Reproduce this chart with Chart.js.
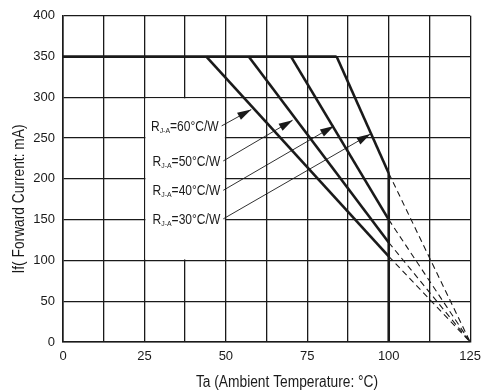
<!DOCTYPE html>
<html>
<head>
<meta charset="utf-8">
<script src="https://cdn.jsdelivr.net/npm/chart.js@4.4.1/dist/chart.umd.min.js"></script>
<style>
    html, body { margin: 0; padding: 0; background: #fff; }
    #wrap { width: 488px; height: 392px; }
</style>
</head>
<body>
<div id="wrap"><canvas id="derating" width="488" height="392"></canvas></div>
<script>
const FONT = '"Liberation Sans", Arial, sans-serif';
const INK = "#1a1a1a";
const SQUEEZE = 0.86; // the original uses a condensed face

// axes
const xMin = 0, xMax = 125, xGridStep = 12.5, xLabelStep = 25;
const yMin = 0, yMax = 400, yStep = 50;

// derating curves (Ta in degC, If in mA)
const rjaValues = [60, 50, 40, 30];
const maxCurrent = 350;
const kneeTa = [44, 57, 70, 84];
const edgeTa = 100;
const edgeCurrent = [105, 122, 150, 207];
const zeroTa = 125;

// label arrows: tail (at the text) -> tip (on the curve)
const arrowTailTa = [48.7, 49.2, 49.2, 49.2];
const arrowTailIf = [265, 222, 186, 151];
const arrowTipTa = [57.8, 70.5, 83.2, 94.4];
const arrowTipIf = [285, 272, 265, 255];

// blank area behind the labels
const labelBoxTa = [25, 50];
const labelBoxIf = [100, 300];

const xTitle = "Ta (Ambient Temperature: °C)";
const yTitle = "If( Forward Current: mA)";

const datasets = [];

// flat 350 mA segment
datasets.push({
    data: [{ x: 0, y: maxCurrent }, { x: Math.max(...kneeTa), y: maxCurrent }],
    borderColor: INK, borderWidth: 2.6
});

rjaValues.forEach((r, i) => {
    datasets.push({
        data: [{ x: kneeTa[i], y: maxCurrent }, { x: edgeTa, y: edgeCurrent[i] }],
        borderColor: INK, borderWidth: 2.6
    });
    datasets.push({
        data: [{ x: edgeTa, y: edgeCurrent[i] }, { x: zeroTa, y: 0 }],
        borderColor: INK, borderWidth: 1.1, borderDash: [6, 4]
    });
    datasets.push({
        data: [{ x: arrowTailTa[i], y: arrowTailIf[i] }, { x: arrowTipTa[i], y: arrowTipIf[i] }],
        borderColor: INK, borderWidth: 0.9, isArrow: true, rIndex: i
    });
});

// vertical 100 degC edge
datasets.push({
    data: [{ x: edgeTa, y: 0 }, { x: edgeTa, y: Math.max(...edgeCurrent) }],
    borderColor: INK, borderWidth: 2.6
});

function squeezed(ctx, text, x, y) {
    ctx.save();
    ctx.translate(x, y);
    ctx.scale(SQUEEZE, 1);
    ctx.fillText(text, 0, 0);
    ctx.restore();
}

const decor = {
    id: "decor",
    beforeDatasetsDraw(chart) {
        const { ctx, scales: { x, y } } = chart;
        const l = x.getPixelForValue(labelBoxTa[0]) + 1;
        const r = x.getPixelForValue(labelBoxTa[1]) - 1;
        const t = y.getPixelForValue(labelBoxIf[1]) + 1;
        const b = y.getPixelForValue(labelBoxIf[0]) - 1;
        ctx.save();
        ctx.fillStyle = "#fff";
        ctx.fillRect(l, t, r - l, b - t);
        ctx.restore();
    },
    afterDatasetsDraw(chart) {
        const { ctx, scales: { x, y } } = chart;
        ctx.save();
        ctx.fillStyle = INK;

        chart.data.datasets.forEach(ds => {
            if (!ds.isArrow) return;
            const i = ds.rIndex;
            const x0 = x.getPixelForValue(arrowTailTa[i]), y0 = y.getPixelForValue(arrowTailIf[i]);
            const x1 = x.getPixelForValue(arrowTipTa[i]), y1 = y.getPixelForValue(arrowTipIf[i]);
            const a = Math.atan2(y1 - y0, x1 - x0);
            const len = 14, half = 4;
            ctx.beginPath();
            ctx.moveTo(x1, y1);
            ctx.lineTo(x1 - len * Math.cos(a) + half * Math.sin(a), y1 - len * Math.sin(a) - half * Math.cos(a));
            ctx.lineTo(x1 - len * Math.cos(a) - half * Math.sin(a), y1 - len * Math.sin(a) + half * Math.cos(a));
            ctx.closePath();
            ctx.fill();

            // label text, right aligned at the arrow tail
            const big = "14px " + FONT, small = "8px " + FONT;
            const rest = "=" + rjaValues[i] + "°C/W";
            ctx.font = big;
            const wR = ctx.measureText("R").width * SQUEEZE;
            const wRest = ctx.measureText(rest).width * SQUEEZE;
            ctx.font = small;
            const wSub = ctx.measureText("J-A").width * SQUEEZE;
            let tx = x0 - 3 - (wR + wSub + wRest);
            const base = y0 + 5;
            ctx.textBaseline = "alphabetic";
            ctx.textAlign = "left";
            ctx.font = big;
            squeezed(ctx, "R", tx, base);
            tx += wR;
            ctx.font = small;
            squeezed(ctx, "J-A", tx, base + 2);
            tx += wSub;
            ctx.font = big;
            squeezed(ctx, rest, tx, base);
        });

        // axis titles
        ctx.font = "16px " + FONT;
        ctx.textAlign = "center";
        ctx.textBaseline = "middle";
        squeezed(ctx, xTitle, 287, 383);
        ctx.translate(20, 199);
        ctx.rotate(-Math.PI / 2);
        squeezed(ctx, yTitle, 0, 0);
        ctx.restore();
    }
};

new Chart(document.getElementById("derating"), {
    type: "line",
    data: { datasets },
    options: {
        responsive: false,
        animation: false,
        events: [],
        layout: { padding: { top: 15, right: 14, left: 0, bottom: 0 } },
        elements: { point: { radius: 0 }, line: { tension: 0 } },
        plugins: { legend: { display: false }, tooltip: { enabled: false } },
        scales: {
            x: {
                type: "linear", min: xMin, max: xMax,
                afterFit: s => { s.height = 50; },
                afterBuildTicks: s => {
                    s.ticks = [];
                    for (let v = xMin; v <= xMax; v += xGridStep) s.ticks.push({ value: v });
                },
                ticks: {
                    autoSkip: false, maxRotation: 0, padding: 7, color: INK,
                    font: { family: FONT, size: 13 },
                    callback: v => (v % xLabelStep === 0 ? v : "")
                },
                grid: { color: INK, lineWidth: 1.3, drawTicks: false },
                border: { color: INK, width: 1.6 }
            },
            y: {
                type: "linear", min: yMin, max: yMax,
                afterFit: s => { s.width = 63; },
                ticks: {
                    stepSize: yStep, padding: 8, color: INK,
                    font: { family: FONT, size: 13 }
                },
                grid: { color: INK, lineWidth: 1.3, drawTicks: false },
                border: { color: INK, width: 1.6 }
            }
        }
    },
    plugins: [decor]
});
</script>
</body>
</html>
